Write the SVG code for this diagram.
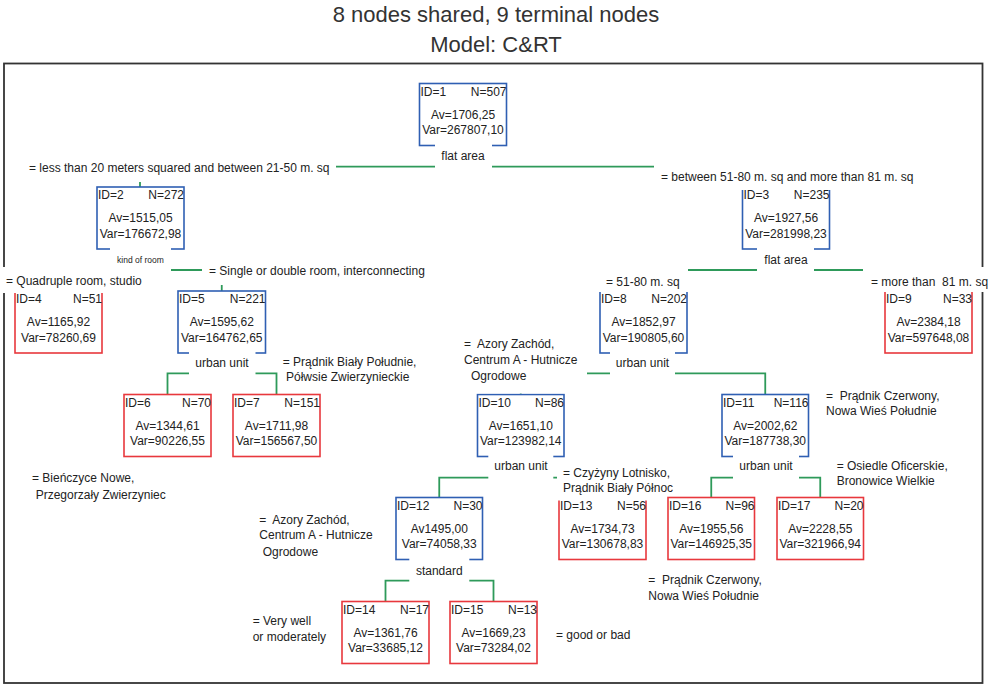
<svg xmlns="http://www.w3.org/2000/svg" width="993" height="685" viewBox="0 0 993 685">
<style>
.t{font-family:"Liberation Sans",Arial,sans-serif;font-size:12px;fill:#222}
.ttl{font-family:"Liberation Sans",Arial,sans-serif;font-size:22px;fill:#333;text-anchor:middle}
.c{text-anchor:middle}
.e{text-anchor:end}
.sm{font-size:8.5px}
.bg{fill:#fff}
.nb{fill:#fff;stroke:#2F5FB3;stroke-width:1.6}
.nr{fill:#fff;stroke:#E8383D;stroke-width:1.6}
.conn{fill:none;stroke:#2E9A5A;stroke-width:1.8}
.frame{fill:none;stroke:#333;stroke-width:1.8}
</style>
<rect width="993" height="685" fill="#fff"/>
<text class="ttl" x="496" y="22">8 nodes shared, 9 terminal nodes</text>
<text class="ttl" x="496" y="52">Model: C&amp;RT</text>
<rect class="frame" x="4" y="63.5" width="978.5" height="619.5"/>

<g id="connectors">
<path class="conn" d="M140,187 V166.7 H786 V187"/>
<path class="conn" d="M58.5,291 V270 H221.75 V291"/>
<path class="conn" d="M643.5,291 V270 H928.5 V291"/>
<path class="conn" d="M167.5,394.5 V373.3 H276.5 V394.5"/>
<path class="conn" d="M520.75,394.5 V373.3 H765.25 V394.5"/>
<path class="conn" d="M439.25,497.5 V477.7 H602.5 V497.5"/>
<path class="conn" d="M711.25,497.5 V477.7 H820.25 V497.5"/>
<path class="conn" d="M385.5,601.5 V580.7 H493.5 V601.5"/>
</g>

<g id="node1"><rect class="nb" x="419.5" y="83.5" width="87" height="62"/>
<text class="t" x="420.5" y="95.5">ID=1</text><text class="t e" x="506.5" y="95.5">N=507</text>
<text class="t c" x="463" y="118.5">Av=1706,25</text><text class="t c" x="463" y="134">Var=267807,10</text></g>

<g id="node2"><rect class="nb" x="97" y="187" width="87" height="62"/>
<text class="t" x="98" y="199">ID=2</text><text class="t e" x="184" y="199">N=272</text>
<text class="t c" x="140.5" y="222">Av=1515,05</text><text class="t c" x="140.5" y="237.5">Var=176672,98</text></g>

<g id="node3"><rect class="nb" x="742.5" y="187" width="87" height="62"/>
<text class="t" x="743.5" y="199">ID=3</text><text class="t e" x="829.5" y="199">N=235</text>
<text class="t c" x="786" y="222">Av=1927,56</text><text class="t c" x="786" y="237.5">Var=281998,23</text></g>

<g id="node4"><rect class="nr" x="15" y="291" width="87" height="62"/>
<text class="t" x="16" y="303">ID=4</text><text class="t e" x="102" y="303">N=51</text>
<text class="t c" x="58.5" y="326">Av=1165,92</text><text class="t c" x="58.5" y="341.5">Var=78260,69</text></g>

<g id="node5"><rect class="nb" x="178" y="291" width="87.5" height="62"/>
<text class="t" x="179" y="303">ID=5</text><text class="t e" x="265.5" y="303">N=221</text>
<text class="t c" x="221.75" y="326">Av=1595,62</text><text class="t c" x="221.75" y="341.5">Var=164762,65</text></g>

<g id="node6"><rect class="nr" x="124" y="394.5" width="87" height="62"/>
<text class="t" x="125" y="406.5">ID=6</text><text class="t e" x="211" y="406.5">N=70</text>
<text class="t c" x="167.5" y="429.5">Av=1344,61</text><text class="t c" x="167.5" y="445">Var=90226,55</text></g>

<g id="node7"><rect class="nr" x="233" y="394.5" width="87" height="62"/>
<text class="t" x="234" y="406.5">ID=7</text><text class="t e" x="320" y="406.5">N=151</text>
<text class="t c" x="276.5" y="429.5">Av=1711,98</text><text class="t c" x="276.5" y="445">Var=156567,50</text></g>

<g id="node8"><rect class="nb" x="600" y="291" width="87" height="62"/>
<text class="t" x="601" y="303">ID=8</text><text class="t e" x="687" y="303">N=202</text>
<text class="t c" x="643.5" y="326">Av=1852,97</text><text class="t c" x="643.5" y="341.5">Var=190805,60</text></g>

<g id="node9"><rect class="nr" x="885" y="291" width="87" height="62"/>
<text class="t" x="886" y="303">ID=9</text><text class="t e" x="972" y="303">N=33</text>
<text class="t c" x="928.5" y="326">Av=2384,18</text><text class="t c" x="928.5" y="341.5">Var=597648,08</text></g>

<g id="node10"><rect class="nb" x="477.5" y="394.5" width="86.5" height="62"/>
<text class="t" x="478.5" y="406.5">ID=10</text><text class="t e" x="564" y="406.5">N=86</text>
<text class="t c" x="520.75" y="429.5">Av=1651,10</text><text class="t c" x="520.75" y="445">Var=123982,14</text></g>

<g id="node11"><rect class="nb" x="722" y="394.5" width="86.5" height="62"/>
<text class="t" x="723" y="406.5">ID=11</text><text class="t e" x="808.5" y="406.5">N=116</text>
<text class="t c" x="765.25" y="429.5">Av=2002,62</text><text class="t c" x="765.25" y="445">Var=187738,30</text></g>

<g id="node12"><rect class="nb" x="396" y="497.5" width="86.5" height="62"/>
<text class="t" x="397" y="509.5">ID=12</text><text class="t e" x="482.5" y="509.5">N=30</text>
<text class="t c" x="439.25" y="532.5">Av1495,00</text><text class="t c" x="439.25" y="548">Var=74058,33</text></g>

<g id="node13"><rect class="nr" x="559" y="497.5" width="87" height="62"/>
<text class="t" x="560" y="509.5">ID=13</text><text class="t e" x="646" y="509.5">N=56</text>
<text class="t c" x="602.5" y="532.5">Av=1734,73</text><text class="t c" x="602.5" y="548">Var=130678,83</text></g>

<g id="node14"><rect class="nr" x="342" y="601.5" width="87" height="62"/>
<text class="t" x="343" y="613.5">ID=14</text><text class="t e" x="429" y="613.5">N=17</text>
<text class="t c" x="385.5" y="636.5">Av=1361,76</text><text class="t c" x="385.5" y="652">Var=33685,12</text></g>

<g id="node15"><rect class="nr" x="450" y="601.5" width="87" height="62"/>
<text class="t" x="451" y="613.5">ID=15</text><text class="t e" x="537" y="613.5">N=13</text>
<text class="t c" x="493.5" y="636.5">Av=1669,23</text><text class="t c" x="493.5" y="652">Var=73284,02</text></g>

<g id="node16"><rect class="nr" x="668" y="497.5" width="86.5" height="62"/>
<text class="t" x="669" y="509.5">ID=16</text><text class="t e" x="754.5" y="509.5">N=96</text>
<text class="t c" x="711.25" y="532.5">Av=1955,56</text><text class="t c" x="711.25" y="548">Var=146925,35</text></g>

<g id="node17"><rect class="nr" x="777" y="497.5" width="86.5" height="62"/>
<text class="t" x="778" y="509.5">ID=17</text><text class="t e" x="863.5" y="509.5">N=20</text>
<text class="t c" x="820.25" y="532.5">Av=2228,55</text><text class="t c" x="820.25" y="548">Var=321966,94</text></g>

<g id="labels">
<rect class="bg" x="435" y="143" width="57" height="27"/>
<text class="t c" x="463" y="160">flat area</text>
<rect class="bg" x="26" y="158" width="310" height="24"/>
<text class="t" x="29" y="171.5">= less than 20 meters squared and between 21-50 m. sq</text>
<rect class="bg" x="654" y="160" width="260" height="30"/>
<text class="t" x="661" y="181">= between 51-80 m. sq and more than 81 m. sq</text>
<rect class="bg" x="110" y="247" width="61" height="26"/>
<text class="t c sm" x="140.5" y="263">kind of room</text>
<rect class="bg" x="2" y="267" width="144" height="26"/>
<text class="t" x="6" y="284.5">= Quadruple room, studio</text>
<rect class="bg" x="202" y="258" width="230" height="27"/>
<text class="t" x="209" y="275">= Single or double room, interconnecting</text>
<rect class="bg" x="757" y="247" width="57" height="26"/>
<text class="t c" x="786" y="263.5">flat area</text>
<rect class="bg" x="598" y="267" width="90" height="25"/>
<text class="t" x="606" y="285.5">= 51-80 m. sq</text>
<rect class="bg" x="863" y="267" width="127" height="25"/>
<text class="t" x="871" y="285.5">= more than&#160; 81 m. sq</text>
<rect class="bg" x="189" y="350" width="66.5" height="25.5"/>
<text class="t c" x="222" y="367">urban unit</text>
<text class="t" x="282.7" y="366">= Prądnik Biały Południe,</text>
<text class="t" x="286" y="381">Półwsie Zwierzynieckie</text>
<rect class="bg" x="610" y="350" width="65" height="28"/>
<text class="t c" x="642.5" y="367">urban unit</text>
<rect class="bg" x="457" y="335" width="130" height="58.5"/>
<text class="t" x="464" y="347.5">=&#160; Azory Zachód,</text>
<text class="t" x="464" y="363.5">Centrum A - Hutnicze</text>
<text class="t" x="471" y="380">Ogrodowe</text>
<text class="t" x="826" y="399.5">=&#160; Prądnik Czerwony,</text>
<text class="t" x="826" y="415">Nowa Wieś Południe</text>
<rect class="bg" x="488.3" y="453" width="65" height="27"/>
<text class="t c" x="521" y="470">urban unit</text>
<rect class="bg" x="557" y="462" width="107" height="38.5"/>
<text class="t" x="563" y="476.5">= Czyżyny Lotnisko,</text>
<text class="t" x="563" y="492">Prądnik Biały Północ</text>
<rect class="bg" x="733" y="453" width="66" height="27"/>
<text class="t c" x="766" y="470">urban unit</text>
<text class="t" x="836.7" y="469.5">= Osiedle Oficerskie,</text>
<text class="t" x="836.7" y="485">Bronowice Wielkie</text>
<text class="t" x="32" y="482">= Bieńczyce Nowe,</text>
<text class="t" x="35.7" y="498.5">Przegorzały Zwierzyniec</text>
<text class="t" x="259.3" y="523.5">=&#160; Azory Zachód,</text>
<text class="t" x="259.3" y="538.5">Centrum A - Hutnicze</text>
<text class="t" x="262.7" y="556">Ogrodowe</text>
<rect class="bg" x="409.3" y="557" width="60" height="26"/>
<text class="t c" x="439.3" y="574.5">standard</text>
<text class="t" x="252.7" y="624.5">= Very well</text>
<text class="t" x="252.7" y="641">or moderately</text>
<text class="t" x="556" y="638.5">= good or bad</text>
<text class="t" x="648.3" y="583.5">=&#160; Prądnik Czerwony,</text>
<text class="t" x="648.3" y="599.5">Nowa Wieś Południe</text>
</g>
</svg>
